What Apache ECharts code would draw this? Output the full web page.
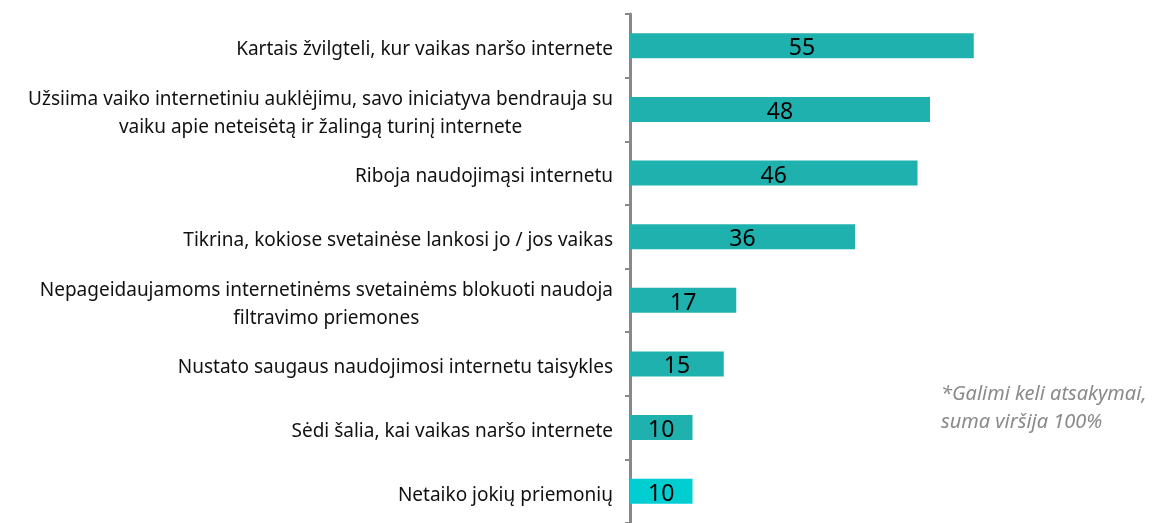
<!DOCTYPE html>
<html>
<head>
<meta charset="utf-8">
<script src="https://cdn.jsdelivr.net/npm/echarts@6/dist/echarts.min.js"></script>
<style>
  html, body { margin: 0; padding: 0; background: #fff; }
  #main { width: 1163px; height: 523px; }
</style>
</head>
<body>
<div id="main"></div>
<script>
// kategorijos (iš viršaus į apačią)
const categories = [
  'Kartais žvilgteli, kur vaikas naršo internete',
  'Užsiima vaiko internetiniu auklėjimu, savo iniciatyva bendrauja su\nvaiku apie neteisėtą ir žalingą turinį internete',
  'Riboja naudojimąsi internetu',
  'Tikrina, kokiose svetainėse lankosi jo / jos vaikas',
  'Nepageidaujamoms internetinėms svetainėms blokuoti naudoja\nfiltravimo priemones',
  'Nustato saugaus naudojimosi internetu taisykles',
  'Sėdi šalia, kai vaikas naršo internete',
  'Netaiko jokių priemonių'
];
const values = [55, 48, 46, 36, 17, 15, 10, 10];
const note = '*Galimi keli atsakymai,\nsuma viršija 100%';

const chart = echarts.init(document.getElementById('main'));

const option = {
  animation: false,
  grid: { left: 630, top: 14, width: 375, height: 516 },
  xAxis: { type: 'value', min: 0, max: 60, show: false },
  yAxis: {
    type: 'category',
    data: categories,
    inverse: true,
    axisLine: { lineStyle: { color: '#888', width: 3 } },
    axisTick: { show: true, length: 5, lineStyle: { color: '#888', width: 2 } },
    axisLabel: {
      margin: 17,
      align: 'right',
      color: '#111',
      fontFamily: 'Noto Sans',
      fontSize: 19,
      lineHeight: 28,
      padding: [8, 0, 0, 0],
      formatter: v => v.split('\n').map(s => '{c|' + s + '}').join('\n'),
      rich: { c: { align: 'center', fontFamily: 'Noto Sans', fontSize: 19, lineHeight: 28, color: '#111' } }
    }
  },
  series: [{
    type: 'bar',
    barWidth: 25,
    data: values.map((v, i) => ({
      value: v,
      itemStyle: { color: i === values.length - 1 ? '#00CED1' : '#1FB1AD' }
    })),
    label: {
      show: true,
      position: 'inside',
      offset: [0, 3],
      color: '#000',
      fontFamily: 'Noto Sans',
      fontSize: 23
    }
  }],
  graphic: [{
    type: 'text',
    left: 941,
    top: 380,
    style: {
      text: note,
      fill: '#8a8a8a',
      font: 'italic 20px "Noto Sans"',
      lineHeight: 28
    }
  }]
};

chart.setOption(option);
</script>
</body>
</html>
